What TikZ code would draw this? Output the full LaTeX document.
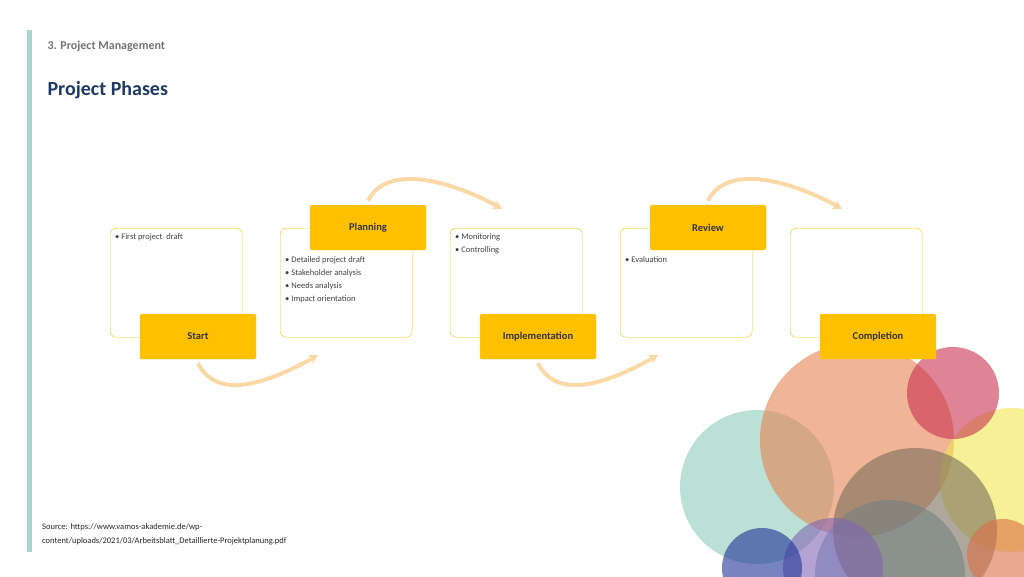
\documentclass[tikz,border=0pt]{standalone}
\usepackage{fontspec}
\setmainfont{Carlito}
\usetikzlibrary{arrows.meta}
\definecolor{phasegold}{HTML}{FFC000}
\definecolor{arcbeige}{HTML}{FAD9A6}
\definecolor{titleblue}{HTML}{1F3864}
\definecolor{bartea}{HTML}{A9D6CB}
\tikzset{
  phasebox/.style={draw=phasegold, rounded corners=6pt, minimum width=132pt, minimum height=109pt, anchor=north west},
  phaselabel/.style={fill=phasegold, draw=phasegold!80!white, rounded corners=2pt, minimum width=116pt, minimum height=45pt, font=\bfseries\fontsize{10.5}{12}\selectfont, text=black!80},
  itemtext/.style={font=\fontsize{8.5}{13}\selectfont, text=black!75, align=left, anchor=north west, inner sep=0pt},
  flowarc/.style={arcbeige, line width=4pt, -{Stealth[length=9pt,width=10pt]}},
  bubble/.style={opacity=0.6}
}
\begin{document}
\begin{tikzpicture}[x=1pt,y=-1pt]
\useasboundingbox (0,0) rectangle (1024,576);
\fill[bartea] (27,30) rectangle (32,552);
\node[anchor=west, text=black!55, font=\bfseries\fontsize{12}{14}\selectfont] (head) at (44,46) {3. Project Management};
\node[anchor=west, text=titleblue, font=\bfseries\fontsize{20}{24}\selectfont] (title) at (44,90) {Project Phases};

% bubbles
\fill[bubble, color={rgb,255:red,142;green,204;blue,186}] (757,487) circle (77);
\fill[bubble, color={rgb,255:red,230;green,130;blue,80}] (857,440) circle (97);
\fill[bubble, color={rgb,255:red,240;green,230;blue,80}] (1012,480) circle (72);
\fill[bubble, color={rgb,255:red,110;green,160;blue,190}] (890,575) circle (75);
\fill[bubble, color={rgb,255:red,120;green,110;blue,90}] (915,530) circle (82);
\fill[bubble, color={rgb,255:red,200;green,50;blue,80}] (953,393) circle (46);
\fill[bubble, color={rgb,255:red,130;green,100;blue,180}] (833,568) circle (50);
\fill[bubble, color={rgb,255:red,30;green,50;blue,150}] (762,568) circle (40);
\fill[bubble, color={rgb,255:red,220;green,110;blue,70}] (1003,555) circle (36);

% outline boxes
\node[phasebox] (startbox) at (110,228) {};
\node[phasebox] (planbox) at (280,228) {};
\node[phasebox] (implbox) at (450,228) {};
\node[phasebox] (revbox) at (620,228) {};
\node[phasebox] (compbox) at (790,228) {};

% box texts
\node[itemtext] (starttext) at (115,233) {• First project\ \ draft};
\node[itemtext] (plantext) at (285,256) {• Detailed project draft\\• Stakeholder analysis\\• Needs analysis\\• Impact orientation};
\node[itemtext] (impltext) at (455,233) {• Monitoring\\• Controlling};
\node[itemtext] (revtext) at (625,256) {• Evaluation};

% phase labels
\node[phaselabel] (start) at (198,336.5) {Start};
\node[phaselabel] (plan) at (368,227.5) {Planning};
\node[phaselabel] (impl) at (538,336.5) {Implementation};
\node[phaselabel] (rev) at (708,227.5) {Review};
\node[phaselabel] (comp) at (878,336.5) {Completion};

% arcs
\draw[flowarc] (start.south) ++(0,4) .. controls +(20,40) and +(-45,25) .. ([xshift=120pt,yshift=4pt]start.south);
\draw[flowarc] (plan.north) ++(0,-4) .. controls +(20,-40) and +(-45,-25) .. ([xshift=134pt,yshift=-4pt]plan.north);
\draw[flowarc] (impl.south) ++(0,4) .. controls +(20,40) and +(-45,25) .. ([xshift=120pt,yshift=4pt]impl.south);
\draw[flowarc] (rev.north) ++(0,-4) .. controls +(20,-40) and +(-45,-25) .. ([xshift=134pt,yshift=-4pt]rev.north);

\node[anchor=north west, align=left, inner sep=0pt, font=\fontsize{8.5}{14}\selectfont, text=black!85] (source) at (42,523) {Source: https://www.vamos-akademie.de/wp-\\content/uploads/2021/03/Arbeitsblatt\_Detaillierte-Projektplanung.pdf};
\node[text=black!45, font=\fontsize{8.5}{10}\selectfont] (pagenum) at (938,549) {23};
\end{tikzpicture}
\end{document}
